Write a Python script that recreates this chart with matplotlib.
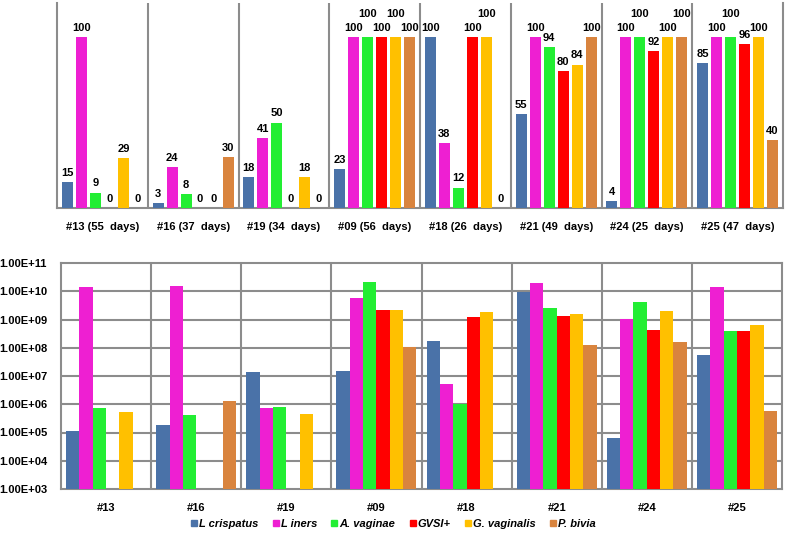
import matplotlib
matplotlib.use("Agg")
import matplotlib.pyplot as plt
from matplotlib.lines import Line2D
import numpy as np

plt.rcParams['font.family'] = ['Liberation Sans', 'DejaVu Sans']

series = ["L crispatus", "L iners", "A. vaginae", "GVSI+", "G. vaginalis", "P. bivia"]
colors = ["#4a72a8", "#ee1fd2", "#22ee33", "#ff0000", "#ffc000", "#d9843e"]

top_labels = ["#13 (55  days)", "#16 (37  days)", "#19 (34  days)", "#09 (56  days)",
              "#18 (26  days)", "#21 (49  days)", "#24 (25  days)", "#25 (47  days)"]
bottom_labels = ["#13", "#16", "#19", "#09", "#18", "#21", "#24", "#25"]

# percentage values (top panel), one list per series
pct_crispatus = [15, 3, 18, 23, 100, 55, 4, 85]
pct_iners     = [100, 24, 41, 100, 38, 100, 100, 100]
pct_vaginae   = [9, 8, 50, 100, 12, 94, 100, 100]
pct_gvsi      = [0, 0, 0, 100, 100, 80, 92, 96]
pct_gvaginalis= [29, 0, 18, 100, 100, 84, 100, 100]
pct_bivia     = [0, 30, 0, 100, 0, 100, 100, 40]

# quantities (bottom panel, log scale); None = not detected
q_crispatus = [1.1e5, 1.9e5, 1.35e7, 1.55e7, 1.8e8, 9.2e9, 6.3e4, 5.4e7]
q_iners     = [1.4e10, 1.5e10, 7.6e5, 5.6e9, 5.4e6, 1.96e10, 1.05e9, 1.38e10]
q_vaginae   = [7.6e5, 4.2e5, 8.3e5, 2.1e10, 1.0e6, 2.6e9, 4.0e9, 3.8e8]
q_gvsi      = [None, None, None, 2.25e9, 1.24e9, 1.3e9, 4.1e8, 3.8e8]
q_gvaginalis= [5.2e5, None, 4.6e5, 2.25e9, 1.77e9, 1.55e9, 2.0e9, 6.5e8]
q_bivia     = [None, 1.3e6, None, 1.05e8, None, 1.24e8, 1.55e8, 5.8e5]

pct = [pct_crispatus, pct_iners, pct_vaginae, pct_gvsi, pct_gvaginalis, pct_bivia]
qty = [q_crispatus, q_iners, q_vaginae, q_gvsi, q_gvaginalis, q_bivia]

# labels raised to avoid overlap: (group index, series index)
raised = {(3, 2), (3, 4), (4, 4), (6, 2), (6, 5), (7, 2)}

gray = "#8c8c8c"
fig = plt.figure(figsize=(7.87, 5.45), dpi=100)

# ---------- top panel ----------
ax1 = fig.add_axes([57/787, (545-208)/545, (783-57)/787, 205/545])
n = len(top_labels)
x = np.arange(n)
step = 0.154
bw = 0.121
for j, vals in enumerate(pct):
    xs = x + (j - 2.5) * step
    ax1.bar(xs, vals, width=bw, color=colors[j], zorder=3)
    for i, v in enumerate(vals):
        off = 13 if (i, j) in raised else 3
        ax1.annotate(str(v), (xs[i], v), xytext=(0, off), textcoords="offset points",
                     ha="center", va="bottom", fontsize=8, fontweight="bold", zorder=4)
ax1.set_xlim(-0.5, n - 0.5)
ax1.set_ylim(0, 120)
ax1.set_yticks([])
ax1.set_xticks(x)
ax1.set_xticklabels(top_labels, fontsize=8, fontweight="bold")
ax1.tick_params(axis="x", length=0, pad=10)
for b in np.arange(0.5, n - 0.5, 1):
    ax1.axvline(b, color=gray, lw=1.5, zorder=1)
ax1.spines["top"].set_visible(False)
for s in ["left", "right", "bottom"]:
    ax1.spines[s].set_color(gray)
    ax1.spines[s].set_linewidth(1.5)

# ---------- bottom panel ----------
ax2 = fig.add_axes([61/787, (545-489)/545, 721/787, 226/545])
step2 = 0.148
base = 1e3
for j, vals in enumerate(qty):
    xs = x + (j - 2.5) * step2
    h = [np.nan if v is None else v - base for v in vals]
    ax2.bar(xs, h, width=step2, bottom=base, color=colors[j], zorder=3, label=series[j])
ax2.set_yscale("log")
ax2.set_ylim(1e3, 1e11)
ax2.set_xlim(-0.5, n - 0.5)
yt = [10.0**k for k in range(3, 12)]
ax2.set_yticks(yt)
ax2.set_yticklabels(["1.00E+%02d" % k for k in range(3, 12)], fontsize=8, fontweight="bold")
ax2.minorticks_off()
ax2.tick_params(axis="y", length=0, pad=10)
ax2.set_xticks(x)
ax2.set_xticklabels(bottom_labels, fontsize=8, fontweight="bold")
ax2.tick_params(axis="x", length=0, pad=10)
for k in range(4, 11):
    ax2.axhline(10.0**k, color=gray, lw=1.5, zorder=1)
for b in np.arange(0.5, n - 0.5, 1):
    ax2.axvline(b, color=gray, lw=1.5, zorder=1)
for s in ax2.spines.values():
    s.set_color(gray)
    s.set_linewidth(1.5)

handles = [Line2D([], [], marker="s", linestyle="none", markersize=4.5,
                  markerfacecolor=c, markeredgecolor=c) for c in colors]
fig.legend(handles, series, loc="center", bbox_to_anchor=(0.5, (545-524)/545), ncol=6,
           frameon=False, handlelength=0.5, handletextpad=0.2, columnspacing=1.3,
           prop={"size": 8, "weight": "bold", "style": "italic"})

fig.savefig("out.png", dpi=100)
